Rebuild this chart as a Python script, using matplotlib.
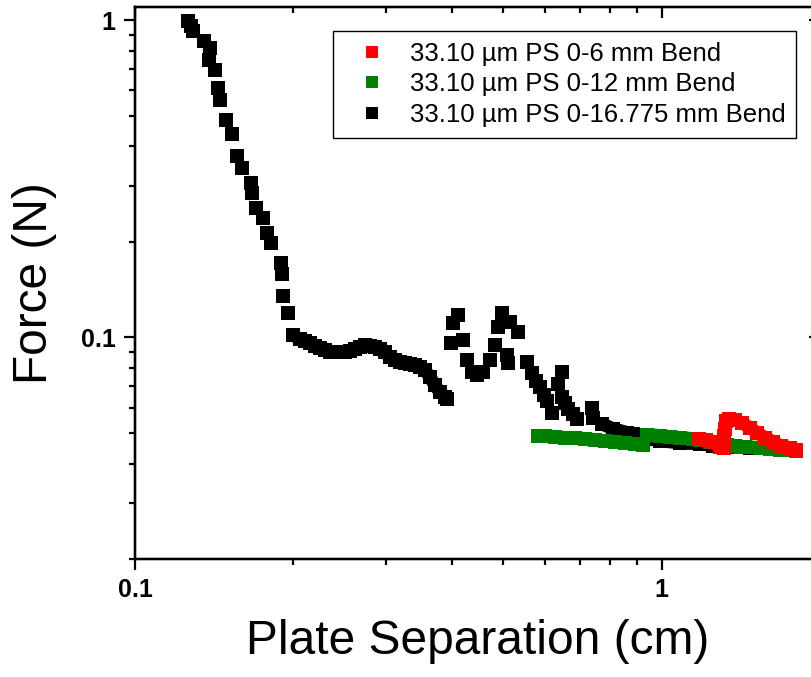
import matplotlib
matplotlib.use("Agg")
import matplotlib.pyplot as plt
from matplotlib.lines import Line2D
from matplotlib.ticker import LogLocator, NullFormatter, FixedLocator, FixedFormatter

plt.rcParams['font.family'] = ['Liberation Sans', 'DejaVu Sans']

# ---- data: plate separation (cm) vs force (N) ----
# 0-16.775 mm bend: steep loading branch (separate points)
black_x1 = [0.126, 0.128, 0.129, 0.135, 0.139, 0.138, 0.142, 0.144, 0.145, 0.149,
            0.153, 0.156, 0.160, 0.166, 0.167, 0.170, 0.175, 0.178, 0.181, 0.189,
            0.190, 0.191, 0.195]
black_y1 = [0.995, 0.957, 0.923, 0.858, 0.816, 0.747, 0.695, 0.609, 0.562, 0.483,
            0.436, 0.374, 0.343, 0.307, 0.286, 0.256, 0.238, 0.213, 0.198, 0.171,
            0.158, 0.135, 0.119]
# plateau near 0.09 N (closely spaced points)
black_x2 = [0.1995, 0.206, 0.210, 0.215, 0.2197, 0.2245, 0.2295, 0.235, 0.2397, 0.245,
            0.2504, 0.256, 0.2616, 0.267, 0.2733, 0.279, 0.2855, 0.292, 0.2984, 0.305,
            0.3116, 0.319, 0.3256, 0.333, 0.3401, 0.348, 0.3553, 0.363, 0.3712, 0.380,
            0.3878, 0.391]
black_y2 = [0.1015, 0.0986, 0.0971, 0.0957, 0.0937, 0.0923, 0.0910, 0.0897, 0.0897, 0.0897,
            0.0897, 0.0903, 0.0916, 0.0930, 0.0943, 0.0937, 0.0930, 0.0916, 0.0897, 0.0864,
            0.0846, 0.0834, 0.0827, 0.0822, 0.0816, 0.0804, 0.0786, 0.0752, 0.0705, 0.0670,
            0.0650, 0.0641]
# oscillating section (separate points)
black_x3 = [0.4105, 0.4016, 0.398, 0.419, 0.427, 0.436, 0.447, 0.458, 0.472, 0.483,
            0.489, 0.497, 0.515, 0.534, 0.508, 0.511, 0.555, 0.567, 0.577, 0.587,
            0.597, 0.606, 0.619, 0.647, 0.636, 0.647, 0.657, 0.664, 0.678, 0.691,
            0.737, 0.741]
black_y3 = [0.1174, 0.1107, 0.0957, 0.0978, 0.0846, 0.0775, 0.0760, 0.0775, 0.0846, 0.0943,
            0.1075, 0.1191, 0.1115, 0.1037, 0.0877, 0.0827, 0.0834, 0.0769, 0.0730, 0.0695,
            0.0660, 0.0632, 0.0579, 0.0775, 0.0715, 0.0646, 0.0620, 0.0596, 0.0575, 0.0554,
            0.0600, 0.0558]
# tail running along / under the other runs
black_x4 = [0.770, 0.808, 0.859, 0.882, 0.910, 0.938, 0.993, 1.083, 1.182, 1.251,
            1.330, 1.471, 1.606, 1.752]
black_y4 = [0.0534, 0.0515, 0.0501, 0.0497, 0.0493, 0.0479, 0.0472, 0.0465, 0.0462, 0.0455,
            0.0452, 0.0449, 0.0445, 0.0442]

# 0-12 mm bend (two passes)
green_xa = [0.582, 0.600, 0.627, 0.655, 0.685, 0.715, 0.747, 0.780, 0.815, 0.852,
            0.890, 0.922]
green_ya = [0.0490, 0.0490, 0.0486, 0.0483, 0.0483, 0.0479, 0.0476, 0.0472, 0.0469, 0.0465,
            0.0462, 0.0459]
green_xb = [0.938, 0.993, 1.037, 1.083, 1.147, 1.182, 1.235, 1.290, 1.330, 1.378,
            1.439, 1.537, 1.606, 1.677, 1.752, 1.800]
green_yb = [0.0493, 0.0490, 0.0486, 0.0483, 0.0479, 0.0476, 0.0469, 0.0462, 0.0459, 0.0455,
            0.0452, 0.0449, 0.0445, 0.0442, 0.0442, 0.0439]

# 0-6 mm bend
red_x = [1.177, 1.214, 1.251, 1.290, 1.313, 1.313, 1.319, 1.325, 1.342, 1.378,
         1.421, 1.471, 1.517, 1.571, 1.627, 1.685, 1.752, 1.800]
red_y = [0.0479, 0.0476, 0.0469, 0.0452, 0.0449, 0.0490, 0.0515, 0.0546, 0.0554, 0.0550,
         0.0538, 0.0519, 0.0501, 0.0483, 0.0469, 0.0455, 0.0449, 0.0442]

labels = ["33.10 \u00b5m PS 0-6 mm Bend",
          "33.10 \u00b5m PS 0-12 mm Bend",
          "33.10 \u00b5m PS 0-16.775 mm Bend"]
colors = ['#ff0000', '#008000', '#000000']
x_ticks = [0.1, 1]
x_ticklabels = ["0.1", "1"]
y_ticks = [0.1, 1]
y_ticklabels = ["0.1", "1"]

W, H = 812, 677
fig = plt.figure(figsize=(W / 100, H / 100), dpi=100)
left, right, top, bottom = 135, 820, 7, 559
ax = fig.add_axes([left / W, (H - bottom) / H, (right - left) / W, (bottom - top) / H])

ms = 9.5
pts = dict(linestyle='none', marker='s', markersize=ms, markeredgewidth=0)
band = dict(linestyle='-', linewidth=ms, marker='s', markersize=ms, markeredgewidth=0,
            solid_capstyle='butt', solid_joinstyle='round')

# black run
ax.plot(black_x1, black_y1, color=colors[2], **pts)
ax.plot(black_x2, black_y2, color=colors[2], **band)
ax.plot(black_x3, black_y3, color=colors[2], **pts)
ax.plot(black_x4, black_y4, color=colors[2], **band)
# green run
ax.plot(green_xa, green_ya, color=colors[1], **band)
ax.plot(green_xb, green_yb, color=colors[1], **band)
# red run
ax.plot(red_x, red_y, color=colors[0], **band)

ax.set_xscale('log')
ax.set_yscale('log')
ax.set_xlim(0.1, 2)
ax.set_ylim(0.02, 1.1)

for sp in ax.spines.values():
    sp.set_linewidth(1.6)

ax.xaxis.set_major_locator(FixedLocator(x_ticks))
ax.xaxis.set_major_formatter(FixedFormatter(x_ticklabels))
ax.yaxis.set_major_locator(FixedLocator(y_ticks))
ax.yaxis.set_major_formatter(FixedFormatter(y_ticklabels))
ax.xaxis.set_minor_locator(LogLocator(base=10, subs=range(2, 10)))
ax.yaxis.set_minor_locator(LogLocator(base=10, subs=range(2, 10)))
ax.xaxis.set_minor_formatter(NullFormatter())
ax.yaxis.set_minor_formatter(NullFormatter())
ax.tick_params(which='major', direction='out', length=8, width=1.6, labelsize=18, pad=6)
ax.tick_params(which='minor', direction='out', length=4.5, width=1.6)
for t in ax.get_xticklabels() + ax.get_yticklabels():
    t.set_fontweight('bold')

# mirrored ticks on top and right, pointing inward
axt = ax.twiny()
axt.set_xscale('log')
axt.set_xlim(ax.get_xlim())
axt.xaxis.set_major_locator(FixedLocator(x_ticks))
axt.xaxis.set_minor_locator(LogLocator(base=10, subs=range(2, 10)))
axt.tick_params(which='both', direction='in', labeltop=False, width=1.6)
axt.tick_params(which='major', length=8)
axt.tick_params(which='minor', length=4.5)
axr = ax.twinx()
axr.set_yscale('log')
axr.set_ylim(ax.get_ylim())
axr.yaxis.set_major_locator(FixedLocator(y_ticks))
axr.yaxis.set_minor_locator(LogLocator(base=10, subs=range(2, 10)))
axr.tick_params(which='both', direction='in', labelright=False, width=1.6)
axr.tick_params(which='major', length=8)
axr.tick_params(which='minor', length=4.5)
for a in (axt, axr):
    for sp in a.spines.values():
        sp.set_linewidth(1.6)

ax.set_xlabel("Plate Separation (cm)", fontsize=34.5, labelpad=12)
ax.set_ylabel("Force (N)", fontsize=34.5, labelpad=17)

handles = [Line2D([], [], linestyle='none', marker='s', markersize=ms * 0.9,
                  markeredgewidth=0, color=c) for c in colors]
leg = axr.legend(handles, labels,
                 loc='upper left', bbox_to_anchor=(333 / W, 1 - 31 / H),
                 bbox_transform=fig.transFigure, fontsize=18.5, frameon=True,
                 fancybox=False, edgecolor='black', framealpha=1,
                 numpoints=1, handlelength=2.2, handletextpad=0.37,
                 labelspacing=0.26, borderpad=0.42, borderaxespad=0)
leg.get_frame().set_linewidth(1.0)

fig.savefig("out.png", dpi=100)
